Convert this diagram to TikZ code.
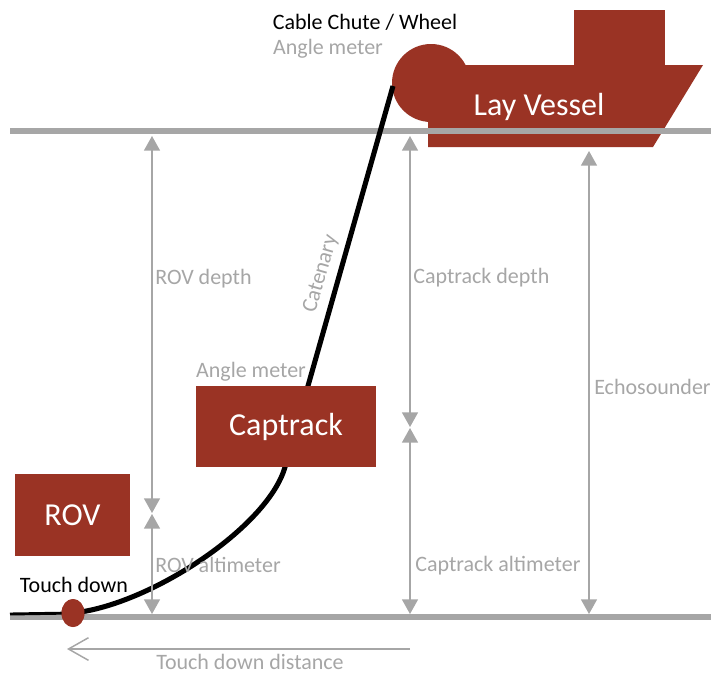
\documentclass[tikz,border=0pt]{standalone}
\usepackage{fontspec}
\setmainfont{Carlito}
\usetikzlibrary{arrows.meta}
\usetikzlibrary{shapes.geometric}

\definecolor{vesselred}{RGB}{154,51,36}
\definecolor{linegray}{RGB}{166,166,166}

\tikzset{
	level/.style={draw=linegray, line width=4.5pt},
	measure/.style={draw=linegray, line width=1.1pt, {Triangle[width=12pt,length=11pt]}-{Triangle[width=12pt,length=11pt]}},
	cable/.style={draw=black, line width=3.8pt},
	unit/.style={fill=vesselred, text=white, font=\fontsize{24}{28}\selectfont, inner sep=0pt},
	graylabel/.style={text=linegray, font=\fontsize{16.5}{19}\selectfont, inner sep=0pt},
	blacklabel/.style={text=black, font=\fontsize{16.5}{19}\selectfont, inner sep=0pt}
}

\begin{document}
\begin{tikzpicture}[x=0.75pt, y=-0.75pt]
			\useasboundingbox (0,0) rectangle (712,675);

			% lay vessel
			\fill[vesselred] (428,65) -- (703,65) -- (653,147) -- (428,147) -- cycle;
			\fill[vesselred] (574,10) rectangle (665,65);
			\fill[vesselred] (431,83) circle[radius=39];
			\node[unit, fill=none] (vessel) at (539,107) {Lay Vessel};

			% sea surface and seabed
			\coordinate (surfL) at (10,131);
			\coordinate (surfR) at (711,131);
			\coordinate (bedL) at (10,617);
			\coordinate (bedR) at (711,617);
			\draw[level] (surfL) -- (surfR);
			\draw[level] (bedL) -- (bedR);

			% cable
			\coordinate (chute) at (393,86);
			\coordinate (ctop) at (285,467);
			\coordinate (cend) at (10,614);
			\node[ellipse, fill=vesselred, minimum width=17pt, minimum height=21pt, inner sep=0pt] (td) at (73,613) {};
			\draw[cable] (chute) -- (ctop) .. controls (268,527) and (150,605) .. (td.center);
			\draw[cable, line width=2.2pt] (td.center) -- (cend);
			\fill[vesselred] (73,613) ellipse [x radius=11.5, y radius=14];

			% captrack and rov
			\node[unit, minimum width=135pt, minimum height=60.75pt] (captrack) at (286,426.5) {Captrack};
			\node[unit, minimum width=86.25pt, minimum height=61.5pt] (rov) at (72.5,515) {ROV};

			% measurements
			\coordinate (rovtop) at (152,136);
			\coordinate (rovmid) at (152,513);
			\coordinate (rovmid2) at (152,514);
			\coordinate (rovbot) at (152,614);
			\coordinate (captop) at (410,136);
			\coordinate (capmid) at (410,427);
			\coordinate (capmid2) at (410,428);
			\coordinate (capbot) at (410,614);
			\coordinate (echotop) at (589,151);
			\coordinate (echobot) at (589,614);
			\draw[measure] (rovtop) -- (rovmid);
			\draw[measure] (rovmid2) -- (rovbot);
			\draw[measure] (captop) -- (capmid);
			\draw[measure] (capmid2) -- (capbot);
			\draw[measure] (echotop) -- (echobot);

			\coordinate (distR) at (410,649);
			\coordinate (distL) at (67,649);
			\draw[draw=linegray, line width=1.1pt, -{Straight Barb[length=15pt,width=17pt]}] (distR) -- (distL);

			% labels
			\node[blacklabel] (chutelabel) at (365,22) {Cable Chute / Wheel};
			\node[graylabel] (angletop) at (328,49) {Angle meter};
			\node[graylabel] (anglecap) at (251,372) {Angle meter};
			\node[graylabel, rotate=74] (catenary) at (321,274) {Catenary};
			\node[graylabel, anchor=west] (rovdepth) at (155,279) {ROV depth};
			\node[graylabel, anchor=west] (capdepth) at (413,278) {Captrack depth};
			\node[graylabel, anchor=west] (echo) at (594,387) {Echosounder};
			\node[graylabel, anchor=west] (rovalt) at (155,565) {ROV altimeter};
			\node[graylabel, anchor=west] (capalt) at (415,566) {Captrack altimeter};
			\node[blacklabel] (tdlabel) at (74,585) {Touch down};
			\node[graylabel] (distlabel) at (250,662) {Touch down distance};
\end{tikzpicture}
\end{document}
